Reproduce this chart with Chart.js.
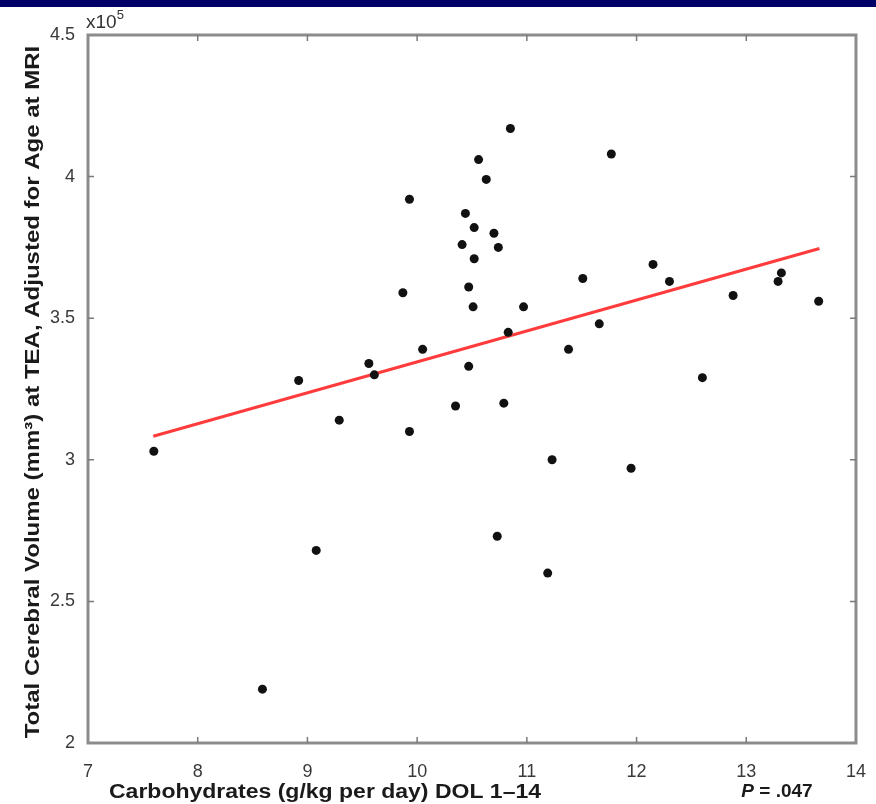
<!DOCTYPE html>
<html>
<head>
<meta charset="utf-8">
<script src="https://cdn.jsdelivr.net/npm/chart.js@4/dist/chart.umd.min.js"></script>
<style>
  html, body { margin: 0; padding: 0; background: #fff; }
  #wrap { width: 876px; height: 804px; position: relative; }
</style>
</head>
<body>
<div id="wrap"><canvas id="cv" width="876" height="804"></canvas></div>
<script>
// ===== data (volume in units of 10^5 mm3) =====
const carbIntake = [7.60, 8.59, 8.92, 9.08, 9.29, 9.56, 9.61, 9.87, 9.93, 9.93, 10.05, 10.35,
  10.41, 10.44, 10.47, 10.47, 10.52, 10.52, 10.51, 10.56, 10.63, 10.70, 10.74, 10.73,
  10.79, 10.83, 10.85, 10.97, 11.19, 11.23, 11.38, 11.51, 11.66, 11.77, 11.95, 12.15,
  12.30, 12.60, 12.88, 13.29, 13.32, 13.66];
const brainVolume = [3.03, 2.19, 3.28, 2.68, 3.14, 3.34, 3.30, 3.59, 3.92, 3.10, 3.39, 3.19,
  3.76, 3.87, 3.61, 3.33, 3.71, 3.82, 3.54, 4.06, 3.99, 3.80, 3.75, 2.73,
  3.20, 3.45, 4.17, 3.54, 2.60, 3.00, 3.39, 3.64, 3.48, 4.08, 2.97, 3.69,
  3.63, 3.29, 3.58, 3.63, 3.66, 3.56];

// regression line end points
const fitX = [7.595, 13.667];
const fitY = [3.083, 3.746];

const xTicks = [7, 8, 9, 10, 11, 12, 13, 14];
const yTicks = [2, 2.5, 3, 3.5, 4, 4.5];
const yTickLabels = ['2', '2.5', '3', '3.5', '4', '4.5'];

const xTitle = 'Carbohydrates (g/kg per day) DOL 1\u201314';
const yTitle = 'Total Cerebral Volume (mm\u00B3) at TEA, Adjusted for Age at MRI';
const pText = '.047';

const FONT = "'Liberation Sans', Arial, Helvetica, sans-serif";

// draws text stretched along its own direction (the scanned figure is stretched)
function stretchedText(ctx, txt, x, y, sx, rot, align) {
  ctx.save();
  ctx.translate(x, y);
  ctx.rotate(rot);
  ctx.scale(sx, 1);
  ctx.textAlign = align;
  ctx.fillText(txt, 0, 0);
  ctx.restore();
}

/**
 * extras: navy band, matlab style frame with inner ticks, labels
 */
const figureExtras = {
  id: 'figureExtras',
  beforeDraw(chart) {
    const ctx = chart.ctx;
    ctx.save();
    ctx.fillStyle = '#fff';
    ctx.fillRect(0, 0, chart.width, chart.height);
    ctx.fillStyle = '#000066';
    ctx.fillRect(0, 0, chart.width, 7);
    ctx.restore();
  },
  afterDraw(chart) {
    const ctx = chart.ctx;
    const a = chart.chartArea;
    const xs = chart.scales.x, ys = chart.scales.y;
    ctx.save();
    // frame
    ctx.strokeStyle = '#8c8c8c';
    ctx.lineWidth = 3;
    ctx.strokeRect(a.left, a.top, a.right - a.left, a.bottom - a.top);
    // inner ticks
    ctx.lineWidth = 1.5;
    ctx.strokeStyle = '#7a7a7a';
    xTicks.slice(1, -1).forEach(v => {
      const px = xs.getPixelForValue(v);
      ctx.beginPath();
      ctx.moveTo(px, a.bottom); ctx.lineTo(px, a.bottom - 6);
      ctx.moveTo(px, a.top); ctx.lineTo(px, a.top + 6);
      ctx.stroke();
    });
    yTicks.slice(1, -1).forEach(v => {
      const py = ys.getPixelForValue(v);
      ctx.beginPath();
      ctx.moveTo(a.left, py); ctx.lineTo(a.left + 6, py);
      ctx.moveTo(a.right, py); ctx.lineTo(a.right - 6, py);
      ctx.stroke();
    });

    // exponent label
    ctx.fillStyle = '#333';
    ctx.textBaseline = 'alphabetic';
    ctx.textAlign = 'left';
    ctx.font = `19px ${FONT}`;
    ctx.fillText('x10', a.left - 2, 28);
    const w = ctx.measureText('x10').width;
    ctx.font = `13px ${FONT}`;
    ctx.fillText('5', a.left - 2 + w, 19);

    // axis titles
    ctx.fillStyle = '#1a1a1a';
    ctx.textBaseline = 'middle';
    ctx.font = `bold 20px ${FONT}`;
    stretchedText(ctx, xTitle, 109, 792, 1.15, 0, 'left');
    stretchedText(ctx, yTitle, 33, 392, 1.2, -Math.PI / 2, 'center');

    // P value
    ctx.textAlign = 'left';
    ctx.font = `italic bold 19px ${FONT}`;
    const pW = ctx.measureText('P').width;
    ctx.font = `bold 19px ${FONT}`;
    const restTxt = ' = ' + pText;
    const rW = ctx.measureText(restTxt).width;
    const startX = 777 - (pW + rW) / 2;
    ctx.font = `italic bold 19px ${FONT}`;
    ctx.fillText('P', startX, 792);
    ctx.font = `bold 19px ${FONT}`;
    ctx.fillText(restTxt, startX + pW, 792);
    ctx.restore();
  }
};

const pts = carbIntake.map((x, i) => ({ x: x, y: brainVolume[i] }));
const fitPts = fitX.map((x, i) => ({ x: x, y: fitY[i] }));

new Chart(document.getElementById('cv'), {
  type: 'scatter',
  data: {
    datasets: [
      {
        label: 'subjects',
        data: pts,
        backgroundColor: '#111',
        borderColor: '#111',
        pointRadius: 4.5,
        pointBorderWidth: 0,
        order: 0
      },
      {
        label: 'fit',
        type: 'line',
        data: fitPts,
        borderColor: '#ff3b3b',
        borderWidth: 3,
        pointRadius: 0,
        fill: false,
        order: 1
      }
    ]
  },
  options: {
    responsive: false,
    animation: false,
    devicePixelRatio: 1,
    layout: { padding: { top: 35, right: 19, left: 0, bottom: 0 } },
    plugins: { legend: { display: false }, tooltip: { enabled: false } },
    scales: {
      x: {
        type: 'linear',
        min: 7, max: 14,
        grid: { display: false },
        border: { display: false },
        afterBuildTicks: s => { s.ticks = xTicks.map(v => ({ value: v })); },
        ticks: {
          padding: 10,
          color: '#3a3a3a',
          font: { family: FONT, size: 18 },
          callback: v => String(v)
        },
        afterFit: s => { s.height = 61; }
      },
      y: {
        type: 'linear',
        min: 2, max: 4.5,
        grid: { display: false },
        border: { display: false },
        afterBuildTicks: s => { s.ticks = yTicks.map(v => ({ value: v })); },
        ticks: {
          padding: 5,
          color: '#3a3a3a',
          font: { family: FONT, size: 18 },
          callback: v => yTickLabels[yTicks.indexOf(v)]
        },
        afterFit: s => { s.width = 88; }
      }
    }
  },
  plugins: [figureExtras]
});
</script>
</body>
</html>
